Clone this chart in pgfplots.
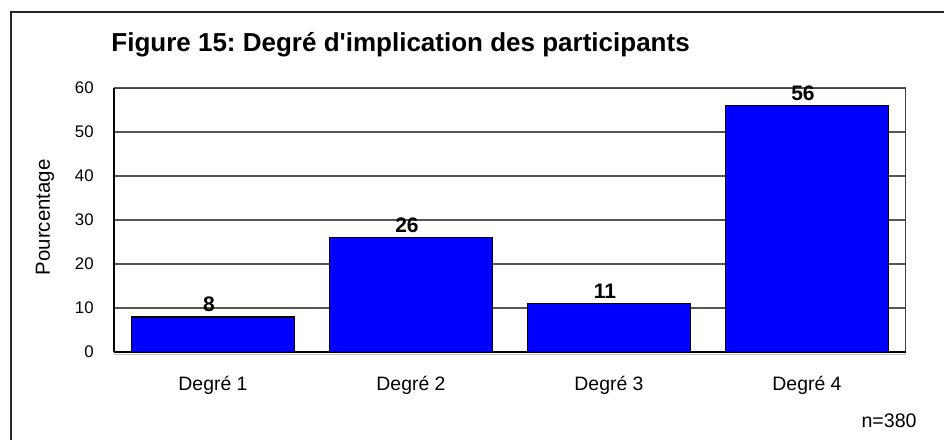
\documentclass[border=0pt]{standalone}
\usepackage{fontspec}
\setmainfont{Liberation Sans}
\usepackage{pgfplots}
\pgfplotsset{compat=1.18}
\definecolor{barblue}{RGB}{0,0,255}
\definecolor{gridgray}{RGB}{85,85,85}
\frenchspacing
\begin{document}
\begin{tikzpicture}[x=1pt,y=1pt]
\path[use as bounding box] (0,0) rectangle (472,220);
% outer frame (left and top only)
\draw[line width=1pt, black!85] (5.5,0) -- (5.5,214) -- (472,214);
\node[anchor=base west, inner sep=0pt, font=\fontsize{13}{15}\selectfont\bfseries]
  at (55.5,194) {Figure 15: Degré d\textquotesingle implication des participants};
\node[anchor=base east, inner sep=0pt, font=\fontsize{9.8}{12}\selectfont]
  at (458.5,6.5) {n=380};
\begin{axis}[
  at={(57pt,44pt)}, anchor=south west,
  scale only axis, width=396pt, height=132pt,
  xmin=-0.5, xmax=3.5, ymin=0, ymax=60,
  xtick={0,1,2,3},
  xticklabels={Degré 1,Degré 2,Degré 3,Degré 4},
  ytick={0,10,...,60},
  ymajorgrids,
  major grid style={gridgray, line width=0.6pt},
  axis line style={black!75, line width=0.5pt},
  tick style={draw=none},
  ybar, bar width=81.5pt,
  xticklabel style={font=\fontsize{9.7}{12}\selectfont, anchor=base, inner sep=0pt, yshift=-15pt},
  yticklabel style={font=\fontsize{8.4}{10}\selectfont, anchor=east, inner sep=0pt, xshift=-10pt},
  /pgf/number format/assume math mode=true,
  ylabel={Pourcentage},
  ylabel style={font=\fontsize{10.2}{12}\selectfont, at={(axis description cs:-0.081,0.51)}, anchor=base, inner sep=0pt},
  nodes near coords,
  nodes near coords style={font=\fontsize{10.5}{12}\selectfont\bfseries, anchor=base, inner sep=0pt, yshift=2.5pt, xshift=-2pt},
  clip=false,
]
\addplot[fill=barblue, draw=black, line width=0.7pt] coordinates
  {(0,8) (1,26) (2,11) (3,56)};
\draw[gray!45, line width=0.6pt] ([yshift=-1.4pt]rel axis cs:0,0) -- ([yshift=-1.4pt]rel axis cs:1,0);
\draw[black, line width=1.1pt] (rel axis cs:0,0) -- (rel axis cs:1,0);
\draw[black, line width=1.1pt] (rel axis cs:0,0) -- (rel axis cs:0,1);
\end{axis}
\end{tikzpicture}
\end{document}
